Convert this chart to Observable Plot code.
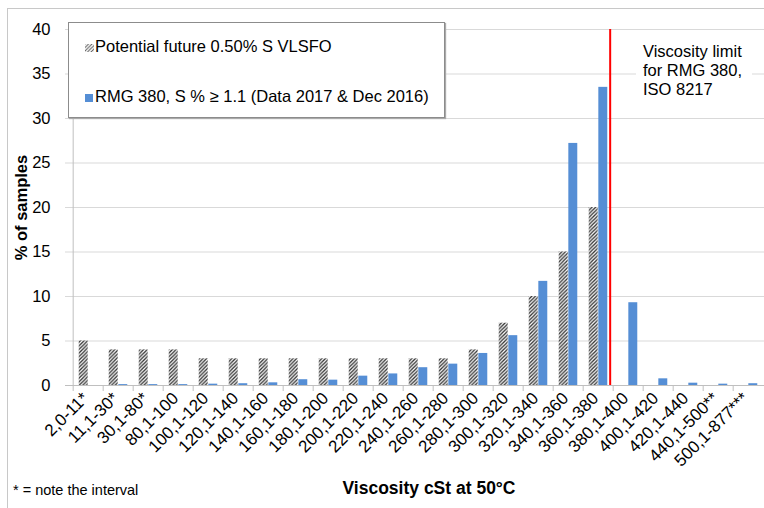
<!DOCTYPE html>
<html><head><meta charset="utf-8">
<script src="https://cdn.jsdelivr.net/npm/d3@7"></script>
<script src="https://cdn.jsdelivr.net/npm/@observablehq/plot@0.6"></script>
<style>
html,body{margin:0;padding:0;background:#fff;overflow:hidden;}
body{width:764px;height:508px;position:relative;font-family:"Liberation Sans",Arial,sans-serif;color:#000;}
#frame{position:absolute;left:7px;top:8px;width:900px;height:700px;border:1px solid #c8c8c8;}
#chart{position:absolute;left:0;top:0;}
#legend{position:absolute;left:68px;top:22px;width:375px;height:94px;border:1px solid #8c8c8c;box-shadow:1px 1px 1px #aaa;background:#fff;font-size:16.5px;}
.row{position:absolute;left:26px;line-height:16.5px;white-space:nowrap;}
.sw{position:absolute;}
#note{position:absolute;left:636px;top:42px;width:116px;padding-left:7px;box-sizing:border-box;background:#fff;font-size:16.5px;line-height:19px;}
#foot{position:absolute;left:13px;top:482.7px;font-size:14.5px;line-height:14.5px;white-space:nowrap;}
#xtitle{position:absolute;left:429px;top:480px;transform:translateX(-50%);font-size:17.5px;line-height:17.5px;font-weight:bold;white-space:nowrap;}
</style>
</head><body>
<div id="frame"></div>
<div id="chart"></div>
<div id="legend">
  <svg class="sw" style="left:16px;top:21px" width="9" height="8"><defs><pattern id="hatchL" width="3.5" height="3.5" patternUnits="userSpaceOnUse"><path d="M-1,1 l2,-2 M0,3.5 l3.5,-3.5 M2.5,4.5 l2,-2" stroke="#555" stroke-width="1"/></pattern></defs><rect width="9" height="8" fill="url(#hatchL)"/></svg>
  <div class="row" style="top:14.7px">Potential future 0.50% S VLSFO</div>
  <svg class="sw" style="left:16px;top:71px" width="8" height="8"><rect width="8" height="8" fill="#558ED5"/></svg>
  <div class="row" style="top:64.7px">RMG 380, S % ≥ 1.1 (Data 2017 &amp; Dec 2016)</div>
</div>
<div id="note">Viscosity limit<br>for RMG 380,<br>ISO 8217</div>
<div id="foot">* = note the interval</div>
<div id="xtitle">Viscosity cSt at 50°C</div>
<script>
const categories = ["2,0-11*","11,1-30*","30,1-80*","80,1-100","100,1-120","120,1-140","140,1-160","160,1-180","180,1-200","200,1-220","220,1-240","240,1-260","260,1-280","280,1-300","300,1-320","320,1-340","340,1-360","360,1-380","380,1-400","400,1-420","420,1-440","440,1-500**","500,1-877***"];
const vlsfo  = [5,4,4,4,3,3,3,3,3,3,3,3,3,4,7,10,15,20,0,0,0,0,0];
const rmg380 = [0,0.1,0.1,0.1,0.15,0.2,0.3,0.65,0.6,1.05,1.3,2.0,2.4,3.6,5.6,11.7,27.2,33.5,9.3,0.75,0.26,0.15,0.2];
const yTicks = [0,5,10,15,20,25,30,35,40];
const yTitle = "% of samples";
const limitCategory = "380,1-400";

const vlsfoData = categories.map((c,i)=>({cat:c, value:vlsfo[i]}));
const rmgData = categories.map((c,i)=>({cat:c, value:rmg380[i]}));

const x0 = 65, x1 = 770;
const bw = (x1 - x0) / categories.length;
const barW = 9.6;
const axisGray = "#bfbfbf";

const svg = Plot.plot({
  width: 764, height: 508,
  marginLeft: 65, marginRight: 0, marginTop: 29, marginBottom: 123,
  style: {fontFamily: "Liberation Sans, Arial, sans-serif", color: "#000", background: "transparent", overflow: "hidden"},
  x: {domain: categories, range: [x0, x1], padding: 0},
  y: {domain: [0, 40]},
  marks: [
    Plot.ruleY(yTicks.slice(1), {stroke: "#d9d9d9"}),
    Plot.axisY({ticks: yTicks, tickSize: 0, tickPadding: 15, fontSize: 16.5, label: null}),
    Plot.text([yTitle], {frameAnchor: "left", dx: -44, rotate: -90, fontSize: 16.5, fontWeight: "bold", textAnchor: "middle"}),
    Plot.barY(vlsfoData, {x: "cat", y: "value", fill: "url(#hatch)", insetLeft: bw/2 - barW, insetRight: bw/2}),
    Plot.barY(rmgData, {x: "cat", y: "value", fill: "#558ED5", insetLeft: bw/2, insetRight: bw/2 - barW}),
    Plot.ruleY([0], {stroke: axisGray}),
    Plot.ruleX([categories[0]], {dx: -bw/2, stroke: axisGray}),
    Plot.ruleX(categories, {dx: -bw/2, y1: 0, y2: 0, insetBottom: -6, stroke: axisGray}),
    Plot.axisX({tickRotate: -45, tickSize: 0, tickPadding: 10, dx: -3, fontSize: 17, label: null}),
    Plot.ruleX([limitCategory], {dx: -bw/2 - 3, y1: 0, y2: 40, stroke: "#ff0000", strokeWidth: 2})
  ]
});
const ns = "http://www.w3.org/2000/svg";
const defs = document.createElementNS(ns, "defs");
defs.innerHTML = '<pattern id="hatch" width="3.6" height="3.6" patternUnits="userSpaceOnUse"><rect width="3.6" height="3.6" fill="#fff"/><path d="M-1,1 l2,-2 M0,3.6 l3.6,-3.6 M2.6,4.6 l2,-2" stroke="#333" stroke-width="1.3"/></pattern>';
svg.insertBefore(defs, svg.firstChild);
document.getElementById("chart").appendChild(svg);
</script>
</body></html>
